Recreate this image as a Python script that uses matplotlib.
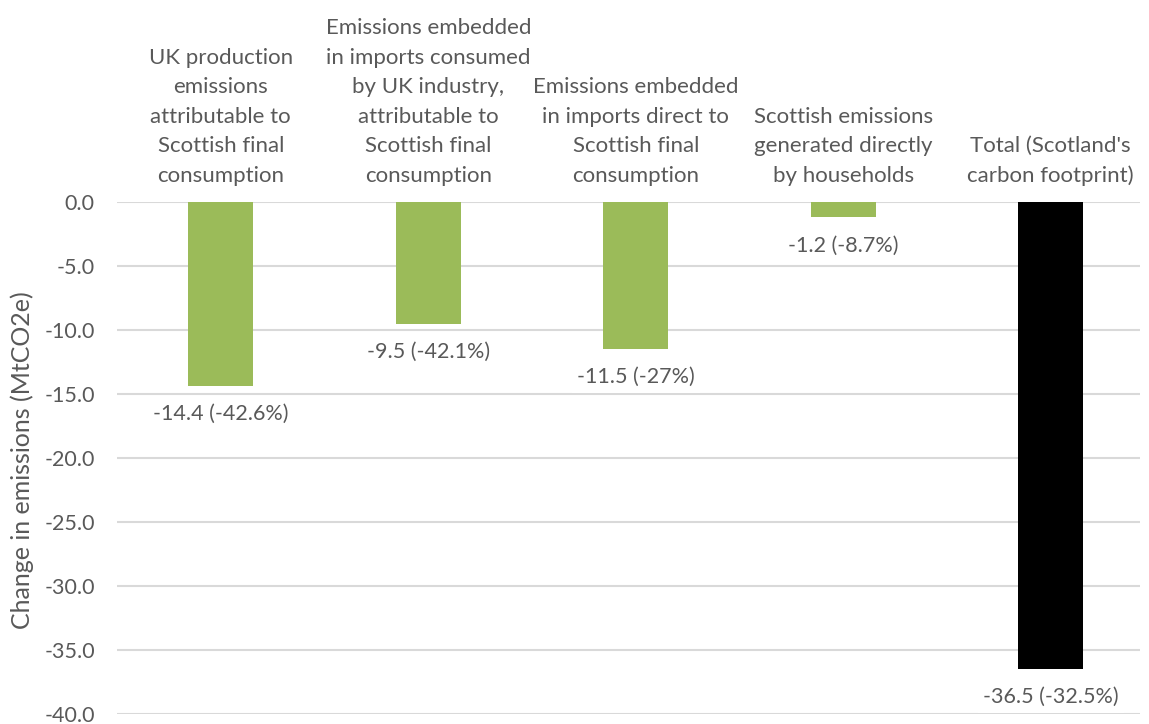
import numpy as np
import matplotlib.pyplot as plt

categories = [
    "UK production\nemissions\nattributable to\nScottish final\nconsumption",
    "Emissions embedded\nin imports consumed\nby UK industry,\nattributable to\nScottish final\nconsumption",
    "Emissions embedded\nin imports direct to\nScottish final\nconsumption",
    "Scottish emissions\ngenerated directly\nby households",
    "Total (Scotland's\ncarbon footprint)",
]
change = [-14.4, -9.5, -11.5, -1.2, -36.5]
pct_change = ["-42.6%", "-42.1%", "-27%", "-8.7%", "-32.5%"]
yticks = [0, -5, -10, -15, -20, -25, -30, -35, -40]

green = "#9BBB59"
text_col = "#595959"
plt.rcParams['font.family'] = ['Lato', 'DejaVu Sans']

fig = plt.figure(figsize=(11.49, 7.24), dpi=100)
ax = fig.add_axes([117 / 1149, 10 / 724, 1023 / 1149, 512 / 724])

x = np.arange(len(change))
colors = [green] * (len(change) - 1) + ["black"]
ax.bar(x, change, width=0.315, color=colors, zorder=2)

ax.set_xlim(-0.5, 4.43)
ax.set_ylim(-40, 0)
ax.set_yticks(yticks)
ax.set_yticklabels([f"{v:.1f}" for v in yticks])
ax.set_xticks([])
ax.tick_params(axis='y', length=0, pad=16, labelsize=15.5, labelcolor=text_col)
ax.grid(axis='y', color="#D9D9D9", linewidth=1.5, zorder=0)
for s in ax.spines.values():
    s.set_visible(False)

fig.text(22 / 1149, 1 - 460 / 724, "Change in emissions (MtCO2e)", rotation=90,
         ha='center', va='center', fontsize=18, color=text_col)

# category names above each bar
for xi, name in zip(x, categories):
    ax.annotate(name, xy=(xi, 0), xytext=(0, 16), textcoords='offset pixels',
                ha='center', va='bottom', fontsize=16, color=text_col,
                linespacing=1.6, annotation_clip=False)

# value labels below bar ends, on a white box over the gridlines
for xi, v, p in zip(x, change, pct_change):
    ax.annotate(f"{v:.1f} ({p})", xy=(xi, v), xytext=(0, -28), textcoords='offset pixels',
                ha='center', va='center', fontsize=15.5, color=text_col, zorder=3,
                bbox=dict(boxstyle='square,pad=0.25', fc='white', ec='none'),
                annotation_clip=False)

fig.savefig("out.png", dpi=100)
